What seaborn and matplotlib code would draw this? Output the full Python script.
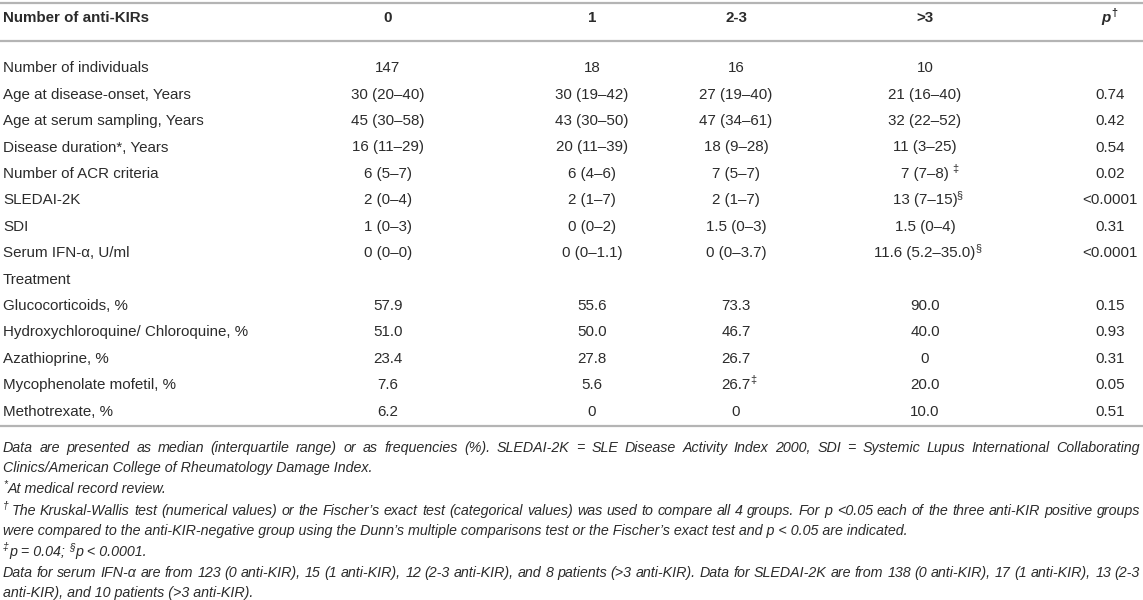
import matplotlib
matplotlib.use("Agg")
import matplotlib.pyplot as plt
import seaborn as sns

# ---------------- data ----------------
header_first = "Number of anti-KIRs"
group_labels = ["0", "1", "2-3", ">3"]
p_header = "p"
p_header_sup = "\u2020"

row_labels = [
    "Number of individuals",
    "Age at disease-onset, Years",
    "Age at serum sampling, Years",
    "Disease duration*, Years",
    "Number of ACR criteria",
    "SLEDAI-2K",
    "SDI",
    "Serum IFN-\u03b1, U/ml",
    "Treatment",
    "Glucocorticoids, %",
    "Hydroxychloroquine/ Chloroquine, %",
    "Azathioprine, %",
    "Mycophenolate mofetil, %",
    "Methotrexate, %",
]
values_0 = ["147", "30 (20\u201340)", "45 (30\u201358)", "16 (11\u201329)", "6 (5\u20137)",
            "2 (0\u20134)", "1 (0\u20133)", "0 (0\u20130)", "", "57.9", "51.0", "23.4", "7.6", "6.2"]
values_1 = ["18", "30 (19\u201342)", "43 (30\u201350)", "20 (11\u201339)", "6 (4\u20136)",
            "2 (1\u20137)", "0 (0\u20132)", "0 (0\u20131.1)", "", "55.6", "50.0", "27.8", "5.6", "0"]
values_23 = ["16", "27 (19\u201340)", "47 (34\u201361)", "18 (9\u201328)", "7 (5\u20137)",
             "2 (1\u20137)", "1.5 (0\u20133)", "0 (0\u20133.7)", "", "73.3", "46.7", "26.7", "26.7", "0"]
values_gt3 = ["10", "21 (16\u201340)", "32 (22\u201352)", "11 (3\u201325)", "7 (7\u20138)",
              "13 (7\u201315)", "1.5 (0\u20134)", "11.6 (5.2\u201335.0)", "", "90.0", "40.0", "0", "20.0", "10.0"]
p_values = ["", "0.74", "0.42", "0.54", "0.02", "<0.0001", "0.31", "<0.0001", "",
            "0.15", "0.93", "0.31", "0.05", "0.51"]
sup_0 = {}
sup_1 = {}
sup_23 = {12: "\u2021"}
sup_gt3 = {4: "\u2021", 5: "\u00a7", 7: "\u00a7"}

footnote_1 = ("Data are presented as median (interquartile range) or as frequencies (%). SLEDAI-2K = SLE "
              "Disease Activity Index 2000, SDI = Systemic Lupus International Collaborating")
footnote_2 = "Clinics/American College of Rheumatology Damage Index."
footnote_3 = [("*", True), ("At medical record review.", False)]
footnote_4 = ("The Kruskal-Wallis test (numerical values) or the Fischer\u2019s exact test (categorical values) "
              "was used to compare all 4 groups. For p <0.05 each of the three anti-KIR positive groups")
footnote_4_sup = "\u2020"
footnote_5 = ("were compared to the anti-KIR-negative group using the Dunn\u2019s multiple comparisons test "
              "or the Fischer\u2019s exact test and p < 0.05 are indicated.")
footnote_6 = [("\u2021", True), ("p = 0.04; ", False), ("\u00a7", True), ("p < 0.0001.", False)]
footnote_7 = ("Data for serum IFN-\u03b1 are from 123 (0 anti-KIR), 15 (1 anti-KIR), 12 (2-3 anti-KIR), and 8 "
              "patients (>3 anti-KIR). Data for SLEDAI-2K are from 138 (0 anti-KIR), 17 (1 anti-KIR), 13 (2-3")
footnote_8 = "anti-KIR), and 10 patients (>3 anti-KIR)."

# ---------------- style ----------------
sns.set_theme(style="white")
FAMILY = ["Liberation Sans", "DejaVu Sans"]
plt.rcParams["font.family"] = FAMILY
TXT = "#2b2b2b"
RULE = "#b4b4b4"

W, H = 1143, 600
fig = plt.figure(figsize=(W / 100, H / 100), dpi=100)
ax = fig.add_axes([0, 0, 1, 1])
ax.set_xlim(0, W)
ax.set_ylim(H, 0)
ax.axis("off")
fig.canvas.draw()
renderer = fig.canvas.get_renderer()
inv = ax.transData.inverted()


def text_width(s, **kw):
    t = ax.text(0, 0, s, **kw)
    bb = t.get_window_extent(renderer)
    t.remove()
    return bb.width


def right_edge(t):
    bb = t.get_window_extent(renderer)
    return inv.transform((bb.x1, bb.y0))[0]


body_fs = 10 * 146 / text_width("Number of individuals", fontsize=10)
foot_fs = 10 * 372 / text_width(footnote_2, fontsize=10, style="italic")
sup_scale = 0.72
BL = "baseline"
body_off = 5.3     # baseline offset below visual row centre
foot_off = 4.8
sup_rise = 6.0

# rules
for yy in (2.5, 41, 426):
    ax.axhline(yy, color=RULE, lw=1.6)

x_label = 3
col_x = [388, 592, 736, 925]
p_x = 1110
head_y = 17

# header
hb = head_y + body_off
ax.text(x_label, hb, header_first, fontsize=body_fs, fontweight="bold",
        color=TXT, ha="left", va=BL)
for cx, lab in zip(col_x, group_labels):
    ax.text(cx, hb, lab, fontsize=body_fs, fontweight="bold", color=TXT,
            ha="center", va=BL)
tp = ax.text(p_x + 1, hb, p_header, fontsize=body_fs, fontweight="bold",
             style="italic", color=TXT, ha="right", va=BL)
ax.text(right_edge(tp) + 0.5, hb - sup_rise, p_header_sup, fontsize=body_fs * sup_scale,
        fontweight="bold", color=TXT, ha="left", va=BL)

# body
columns = [(values_0, sup_0), (values_1, sup_1), (values_23, sup_23), (values_gt3, sup_gt3)]
row0, row_step = 67, 26.4
for i, lab in enumerate(row_labels):
    yb = row0 + i * row_step + body_off
    ax.text(x_label, yb, lab, fontsize=body_fs, color=TXT, ha="left", va=BL)
    for cx, (vals, sups) in zip(col_x, columns):
        if not vals[i]:
            continue
        t = ax.text(cx, yb, vals[i], fontsize=body_fs, color=TXT, ha="center", va=BL)
        if i in sups:
            gap = 3.5 if i == 4 and vals is values_gt3 else -0.5
            ax.text(right_edge(t) + gap, yb - sup_rise, sups[i], fontsize=body_fs * sup_scale,
                    color=TXT, ha="left", va=BL)
    if p_values[i]:
        ax.text(p_x, yb, p_values[i], fontsize=body_fs, color=TXT, ha="center", va=BL)

# footnotes
fkw = dict(fontsize=foot_fs, style="italic", color=TXT)


def justified(text, x0, x1, y):
    words = text.split(" ")
    widths = [text_width(w, **fkw) for w in words]
    gap = (x1 - x0 - sum(widths)) / (len(words) - 1)
    x = x0
    for w, wd in zip(words, widths):
        ax.text(x, y, w, ha="left", va=BL, **fkw)
        x += wd + gap


def run(parts, x, y):
    for s, is_sup in parts:
        if is_sup:
            t = ax.text(x, y - sup_rise, s, ha="left", va=BL, fontsize=foot_fs * sup_scale,
                        style="italic", color=TXT)
            x = right_edge(t) + 0.5
        else:
            t = ax.text(x, y, s.rstrip(), ha="left", va=BL, **fkw)
            x = right_edge(t) + (text_width("a a", **fkw) - text_width("aa", **fkw)
                                 if s.endswith(" ") else 0)
    return x


foot_y = [447, 467, 488, 510, 530, 551, 572, 592]
foot_b = [v + foot_off for v in foot_y]
x_right = 1140
justified(footnote_1, x_label, x_right, foot_b[0])
ax.text(x_label, foot_b[1], footnote_2, ha="left", va=BL, **fkw)
run(footnote_3, x_label, foot_b[2])
xs = run([(footnote_4_sup, True)], x_label, foot_b[3]) + 2
justified(footnote_4, xs, x_right, foot_b[3])
ax.text(x_label, foot_b[4], footnote_5, ha="left", va=BL, **fkw)
run(footnote_6, x_label, foot_b[5])
justified(footnote_7, x_label, x_right, foot_b[6])
ax.text(x_label, foot_b[7], footnote_8, ha="left", va=BL, **fkw)

fig.savefig("out.png", dpi=100)
